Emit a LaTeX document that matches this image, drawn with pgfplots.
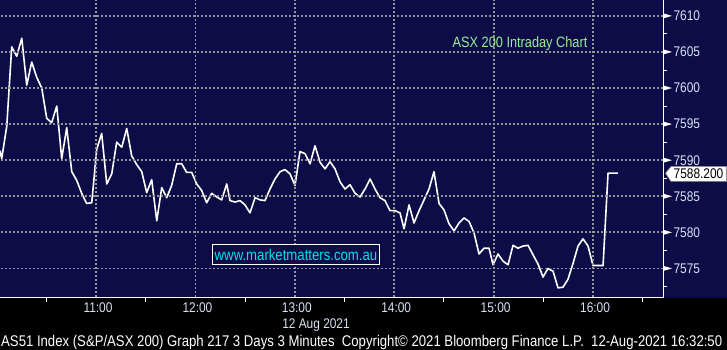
\documentclass[border=0pt]{standalone}
\usepackage{pgfplots}
\pgfplotsset{compat=1.18}
\usepackage{fontspec}
\setmainfont{Liberation Sans}[FakeStretch=0.85]
\definecolor{navy}{RGB}{14,12,70}
\definecolor{ticklab}{RGB}{215,225,245}
\definecolor{titlegreen}{RGB}{150,240,150}
\definecolor{wmcyan}{RGB}{0,225,235}
\pgfplotstableread{
h v
10.034 7591.3
10.051 7590.2
10.102 7594.7
10.152 7605.7
10.202 7604.4
10.253 7606.9
10.303 7600.4
10.353 7603.6
10.403 7601.5
10.454 7600.0
10.504 7595.8
10.554 7595.2
10.605 7597.5
10.655 7590.2
10.705 7594.5
10.756 7588.4
10.806 7587.2
10.856 7585.4
10.906 7584.0
10.957 7584.1
11.007 7591.5
11.057 7593.7
11.108 7586.7
11.158 7588.1
11.208 7592.5
11.259 7591.8
11.309 7594.4
11.359 7590.6
11.409 7589.4
11.460 7588.4
11.510 7585.5
11.560 7587.3
11.611 7581.6
11.661 7586.2
11.711 7584.8
11.761 7586.5
11.812 7589.5
11.862 7589.5
11.912 7588.3
11.963 7588.3
12.013 7586.7
12.063 7585.8
12.113 7584.1
12.164 7585.4
12.214 7584.9
12.264 7584.5
12.315 7586.7
12.348 7584.4
12.398 7584.2
12.449 7584.4
12.499 7583.8
12.549 7582.7
12.600 7584.8
12.650 7584.5
12.700 7584.4
12.750 7586.0
12.801 7587.4
12.851 7588.4
12.901 7588.7
12.952 7588.1
13.002 7586.5
13.052 7591.2
13.103 7590.9
13.153 7589.5
13.203 7592.0
13.254 7589.7
13.304 7588.8
13.354 7589.8
13.404 7588.8
13.455 7587.0
13.505 7586.0
13.555 7586.6
13.606 7585.4
13.656 7584.9
13.706 7586.0
13.757 7587.4
13.807 7586.0
13.857 7584.8
13.907 7584.4
13.958 7583.0
14.008 7583.0
14.058 7582.7
14.099 7580.5
14.149 7583.8
14.199 7581.3
14.250 7583.0
14.300 7584.5
14.350 7586.0
14.400 7588.4
14.451 7584.0
14.501 7583.1
14.551 7581.2
14.602 7580.2
14.652 7581.3
14.702 7582.0
14.753 7581.5
14.803 7579.9
14.853 7577.0
14.903 7577.8
14.954 7577.8
14.994 7575.5
15.044 7577.0
15.095 7576.0
15.145 7575.5
15.195 7578.2
15.245 7577.8
15.296 7578.1
15.346 7578.2
15.396 7576.9
15.447 7575.6
15.497 7573.8
15.547 7575.0
15.598 7574.6
15.648 7572.3
15.698 7572.4
15.748 7573.5
15.799 7575.7
15.849 7578.1
15.899 7579.1
15.950 7578.1
16.000 7575.4
16.050 7575.4
16.101 7575.4
16.151 7588.2
16.249 7588.2
}\asxdata
\begin{document}
\begin{tikzpicture}
\path[use as bounding box] (0pt,-52pt) rectangle (727pt,298pt);
\fill[black] (0pt,-52pt) rectangle (727pt,0pt);
\fill[navy] (0pt,0pt) rectangle (727pt,298pt);
\begin{axis}[
  at={(0pt,0pt)}, anchor=south west,
  width=663pt, height=298pt, scale only axis,
  xmin=10.034, xmax=16.704, ymin=7570.9, ymax=7612.2,
  axis x line*=bottom, axis y line*=right,
  axis line style={white, line width=1pt},
  xtick={11,12,13,14,15,16},
  xticklabels={11:00,12:00,13:00,14:00,15:00,16:00},
  minor xtick={10.5,11.5,12.5,13.5,14.5,15.5,16.5},
  ytick={7575,7580,7585,7590,7595,7600,7605,7610},
  minor ytick={7572.5,7577.5,7582.5,7587.5,7592.5,7597.5,7602.5,7607.5},
  yticklabel pos=right,
  tick align=outside,
  major tick length=0pt, minor tick length=4pt,
  minor tick style={white, line width=0.9pt},
  tick label style={font=\fontsize{14}{14}\selectfont, text=ticklab},
  yticklabel style={anchor=west, xshift=7pt},
  xticklabel style={yshift=-1pt, xshift=2pt},
  /pgf/number format/assume math mode=true,
  /pgf/number format/1000 sep={},
]
\addplot[white, line width=1.6pt, line join=round] table[x=h, y=v] {\asxdata};
\end{axis}
\foreach \yy in {29.58,65.66,101.74,137.82,173.90,209.98,246.06,282.13}{
  \foreach \k in {0,...,165}{
    \fill[fill={rgb,255:red,150;green,150;blue,155}] ({\k*4pt+1pt},{\yy pt-0.9pt}) rectangle ++(2pt,1.8pt);
  }
}
\foreach \xx in {96.0,195.4,294.8,394.2,493.6,593.0}{
  \foreach \k in {0,...,74}{
    \fill[fill={rgb,255:red,150;green,150;blue,155}] ({\xx pt-0.9pt},{\k*4pt+1pt}) rectangle ++(1.8pt,2pt);
  }
}
\foreach \yy in {29.58,65.66,101.74,137.82,173.90,209.98,246.06,282.13}{
  \fill[white] (663pt,\yy pt+2.6pt) -- (672pt,\yy pt) -- (663pt,\yy pt-2.6pt) -- cycle;
}
\node[text=titlegreen, font=\fontsize{15}{15}\selectfont] at (520pt,254pt) {ASX 200 Intraday Chart};
\node[draw=white, line width=1pt, fill=navy, text=wmcyan, inner sep=2pt, minimum width=166pt, minimum height=20pt, font=\fontsize{15.5}{15.5}\selectfont] at (296pt,43.5pt) {www.marketmatters.com.au};
\draw[gray, fill=white, line width=0.5pt] (665.5pt,124.8pt) -- (671pt,131.5pt) -- (726.5pt,131.5pt) -- (726.5pt,116.5pt) -- (671pt,116.5pt) -- cycle;
\node[text=black, font=\fontsize{14}{14}\selectfont, inner sep=0pt] at (698.5pt,124pt) {7588.200};
\node[text=ticklab, font=\fontsize{14}{14}\selectfont] at (316pt,-27pt) {12 Aug 2021};
\node[text=white, inner sep=0pt, anchor=west] at (1pt,-44pt) {\resizebox{721pt}{!}{\fontsize{14}{14}\selectfont AS51 Index (S\&P/ASX 200) Graph 217 3 Days 3 Minutes\ \ Copyright© 2021 Bloomberg Finance L.P.\ \ 12-Aug-2021 16:32:50}};
\end{tikzpicture}
\end{document}
